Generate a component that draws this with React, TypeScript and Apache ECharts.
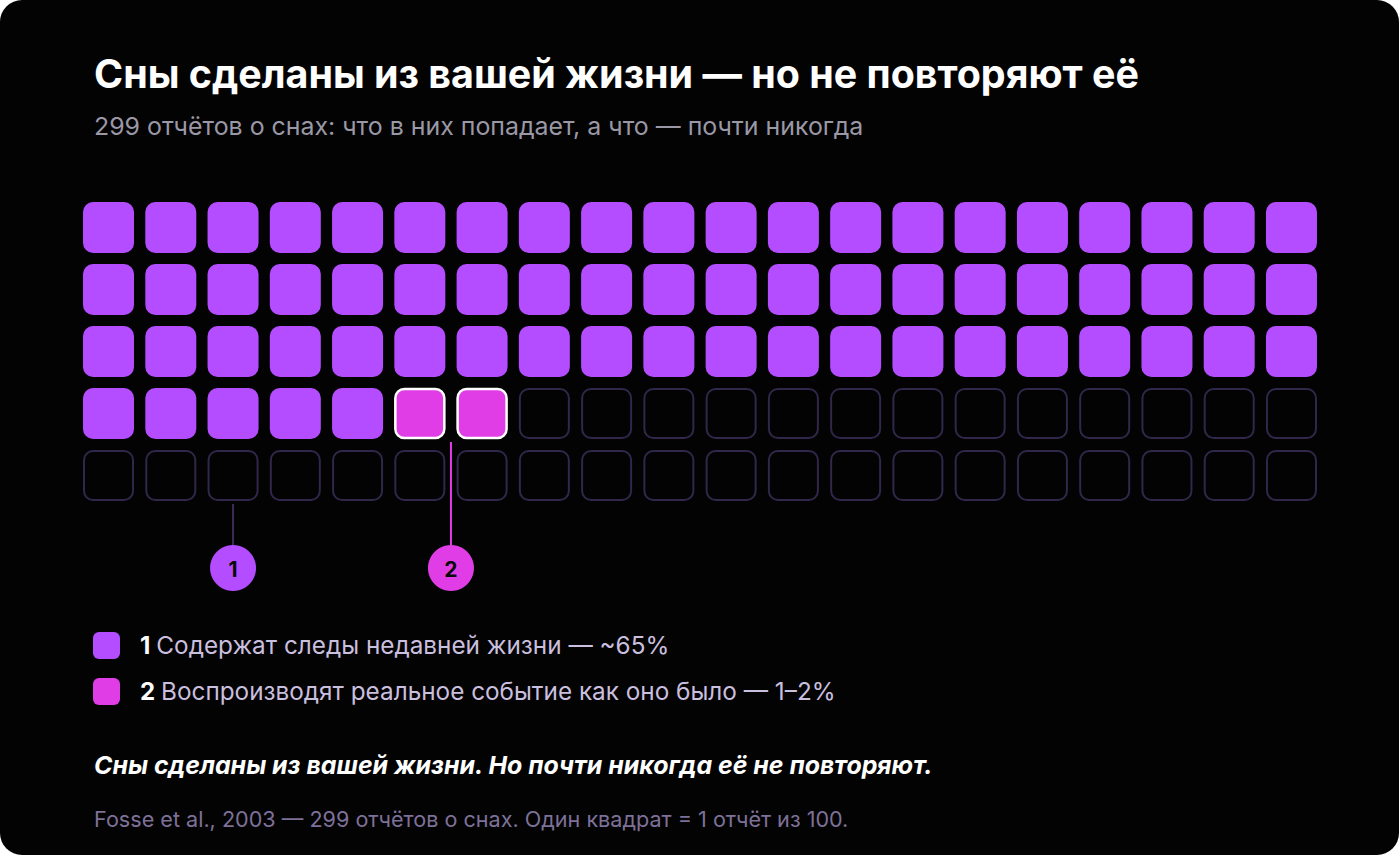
import React, { useEffect, useRef } from "react";
import * as echarts from "echarts";

const TITLE = "Сны сделаны из вашей жизни — но не повторяют её";
const SUBTITLE = "299 отчётов о снах: что в них попадает, а что — почти никогда";
const CATEGORIES = ["Содержат следы недавней жизни — ~65%", "Воспроизводят реальное событие как оно было — 1–2%", "Прочие"];
const COUNTS = [65, 2, 33];
const COLORS = ["#b44dff", "#e03de6", "#30274a"];
const COLS = 20;
const ROWS = 5;
const CONCLUSION = "Сны сделаны из вашей жизни. Но почти никогда её не повторяют.";
const SOURCE = "Fosse et al., 2003 — 299 отчётов о снах. Один квадрат = 1 отчёт из 100.";
const FONT = "Inter, 'Noto Sans', sans-serif";

function buildCells() {
  const cells: number[][] = [];
  let idx = 0;
  COUNTS.forEach((n, cat) => {
    for (let k = 0; k < n; k++) {
      cells.push([idx % COLS, Math.floor(idx / COLS), cat]);
      idx++;
    }
  });
  return cells;
}

export default function App() {
  const ref = useRef<HTMLDivElement>(null);
  useEffect(() => {
    document.body.style.margin = "0";
    document.body.style.background = "#ffffff";
    const chart = echarts.init(ref.current!, null, { renderer: "svg" });
    const cells = buildCells();
    const option: any = {
      animation: false,
      backgroundColor: "transparent",
      grid: { left: 77.4, top: 196.5, width: 1245.2, height: 310 },
      xAxis: { type: "value", min: -0.5, max: COLS - 0.5, show: false },
      yAxis: { type: "value", min: -0.5, max: ROWS - 0.5, inverse: true, show: false },
      series: [
        {
          type: "custom",
          data: cells,
          encode: { x: 0, y: 1 },
          z: 5,
          renderItem: (params: any, api: any) => {
            const c = api.coord([api.value(0), api.value(1)]);
            const sz = api.size([1, 1]);
            const s = Math.min(sz[0], sz[1]) - 11;
            const cat = api.value(2);
            if (cat === 2) {
              return {
                type: "rect",
                shape: { x: c[0] - s / 2 + 1, y: c[1] - s / 2 + 1, width: s - 2, height: s - 2, r: 9 },
                style: { fill: "none", stroke: COLORS[2], lineWidth: 2 },
              };
            }
            if (cat === 1) {
              return {
                type: "rect",
                shape: { x: c[0] - s / 2 + 1, y: c[1] - s / 2 + 1, width: s - 2, height: s - 2, r: 9 },
                style: { fill: COLORS[1], stroke: "#ffffff", lineWidth: 2.5 },
              };
            }
            return {
              type: "rect",
              shape: { x: c[0] - s / 2, y: c[1] - s / 2, width: s, height: s, r: 10 },
              style: { fill: COLORS[0] },
            };
          },
        },
      ],
    };
    chart.setOption(option);

    const p1 = chart.convertToPixel({ gridIndex: 0 }, [2, ROWS - 1]) as number[];
    const p2 = chart.convertToPixel({ gridIndex: 0 }, [5.5, 3]) as number[];
    const half = 25.5;
    const circY = 568;
    const R = 23;

    const legendRich = {
      b: { fill: "#ffffff", font: `700 24px ${FONT}`, padding: [0, 6, 0, 0] },
      t: { fill: "#c9bfdf", font: `400 24.3px ${FONT}` },
    };

    const graphic: any[] = [
      { type: "rect", z: -10, shape: { x: 0, y: 0, width: 1399, height: 855, r: 22 }, style: { fill: "#030303" } },
      { type: "text", x: 94, y: 74, style: { text: TITLE, fill: "#ffffff", font: `700 39.4px ${FONT}`, verticalAlign: "middle" } },
      { type: "text", x: 94, y: 126, style: { text: SUBTITLE, fill: "#9a98a6", font: `400 24.9px ${FONT}`, verticalAlign: "middle" } },
      // annotation 1
      { type: "line", shape: { x1: p1[0], y1: p1[1] + half + 3, x2: p1[0], y2: circY - R }, style: { stroke: "#3a2f52", lineWidth: 2 } },
      { type: "circle", shape: { cx: p1[0], cy: circY, r: R }, style: { fill: COLORS[0] } },
      { type: "text", x: p1[0], y: circY + 1, style: { text: "1", fill: "#0a0a0a", font: `700 21px ${FONT}`, align: "center", verticalAlign: "middle" } },
      // annotation 2
      { type: "line", shape: { x1: p2[0], y1: p2[1] + half + 3, x2: p2[0], y2: circY - R }, style: { stroke: COLORS[1], lineWidth: 2 } },
      { type: "circle", shape: { cx: p2[0], cy: circY, r: R }, style: { fill: COLORS[1] } },
      { type: "text", x: p2[0], y: circY + 1, style: { text: "2", fill: "#0a0a0a", font: `700 21px ${FONT}`, align: "center", verticalAlign: "middle" } },
      // legend
      { type: "rect", shape: { x: 93, y: 632, width: 27, height: 27, r: 6 }, style: { fill: COLORS[0] } },
      { type: "text", x: 140, y: 645, style: { text: `{b|1}{t|${CATEGORIES[0]}}`, verticalAlign: "middle", rich: legendRich } },
      { type: "rect", shape: { x: 93, y: 678, width: 27, height: 27, r: 6 }, style: { fill: COLORS[1] } },
      { type: "text", x: 140, y: 691, style: { text: `{b|2}{t|${CATEGORIES[1]}}`, verticalAlign: "middle", rich: legendRich } },
      { type: "text", x: 94, y: 765, style: { text: CONCLUSION, fill: "#ffffff", font: `italic 700 24.9px ${FONT}`, verticalAlign: "middle" } },
      { type: "text", x: 94, y: 819, style: { text: SOURCE, fill: "#7e7199", font: `400 21.6px ${FONT}`, verticalAlign: "middle" } },
    ];
    chart.setOption({ graphic });
    return () => chart.dispose();
  }, []);
  return <div ref={ref} style={{ width: 1400, height: 856 }} />;
}
